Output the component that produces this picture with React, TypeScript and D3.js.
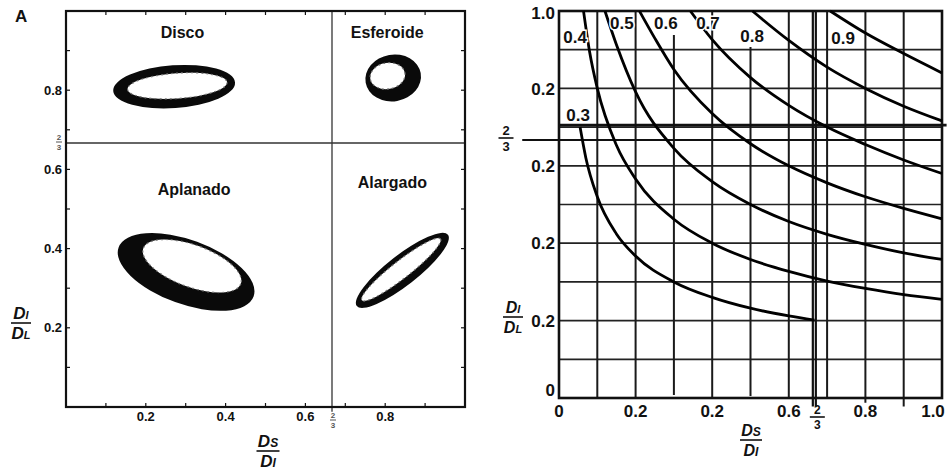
import React from 'react';
import * as d3 from 'd3';

const W = 950;
const H = 470;
const FONT = '"Liberation Sans", Arial, Helvetica, sans-serif';
const INK = '#111';

// ---------------- Left panel data ----------------
const leftMinorTicks = [0.1, 0.2, 0.3, 0.4, 0.5, 0.6, 0.7, 0.8, 0.9];
const leftXLabelValues = [0.2, 0.4, 0.6, 0.8];
const leftYLabelValues = [0.8, 0.6, 0.4, 0.2];
const twoThirds = 2 / 3;

const regionNames = ['Disco', 'Esferoide', 'Aplanado', 'Alargado'];
const regionLabelX = [0.292, 0.805, 0.321, 0.818];
const regionLabelY = [0.932, 0.932, 0.535, 0.553];

// point clouds, drawn as a dense ring: outer envelope and inner empty area
const cloudCx = [0.271, 0.82, 0.301, 0.843];
const cloudCy = [0.809, 0.831, 0.341, 0.345];
const cloudRx = [0.153, 0.07, 0.18, 0.145];
const cloudRy = [0.054, 0.059, 0.081, 0.038];
const cloudAngle = [-4, -10, 20, -38];
const holeCx = [0.279, 0.806, 0.316, 0.84];
const holeCy = [0.811, 0.836, 0.356, 0.347];
const holeRx = [0.125, 0.044, 0.13, 0.125];
const holeRy = [0.032, 0.033, 0.053, 0.022];

// ---------------- Right panel data ----------------
const gridValues = [0.1, 0.2, 0.3, 0.4, 0.5, 0.6, 0.7, 0.8, 0.9];
const vertGridTop = [1, 1, 0.938, 1, 0.907, 1, 1, 1, 1];
const vertGridBottom = [0, 0, 0.008, 0, 0.005, 0, 0, -0.012, -0.022];

const rightYTickValues = [1.0, 0.8, 0.6, 0.4, 0.2, 0];
const rightYTickLabels = ['1.0', '0.2', '0.2', '0.2', '0.2', '0'];
const rightXTickValues = [0, 0.2, 0.4, 0.6, 0.8, 1.0];
const rightXTickLabels = ['0', '0.2', '0.2', '0.6', '0.8', '1.0'];

const boundaryLineY = 0.705;

const sphericityLabels = ['0.3', '0.4', '0.5', '0.6', '0.7', '0.8', '0.9'];
const sphericityLabelX = [0.05, 0.042, 0.164, 0.279, 0.389, 0.504, 0.742];
const sphericityLabelY = [0.716, 0.917, 0.953, 0.953, 0.953, 0.92, 0.915];

const curve03: [number, number][] = [[0.055, 0.7], [0.07, 0.621], [0.1, 0.52], [0.15, 0.424], [0.2, 0.367], [0.3, 0.3], [0.4, 0.26], [0.5, 0.232], [0.6, 0.212], [0.667, 0.201]];
const curve04: [number, number][] = [[0.064, 1.0], [0.08, 0.894], [0.1, 0.8], [0.15, 0.653], [0.2, 0.566], [0.3, 0.462], [0.4, 0.4], [0.5, 0.358], [0.6, 0.327], [0.7, 0.302], [0.8, 0.283], [0.9, 0.267], [1.0, 0.255]];
const curve05: [number, number][] = [[0.12, 1.0], [0.15, 0.913], [0.2, 0.791], [0.3, 0.645], [0.4, 0.559], [0.5, 0.5], [0.6, 0.456], [0.7, 0.423], [0.8, 0.397], [0.9, 0.375], [1.0, 0.358]];
const curve06: [number, number][] = [[0.21, 1.0], [0.25, 0.93], [0.3, 0.849], [0.4, 0.735], [0.5, 0.657], [0.6, 0.6], [0.7, 0.556], [0.8, 0.52], [0.9, 0.49], [1.0, 0.463]];
const curve07: [number, number][] = [[0.343, 1.0], [0.4, 0.926], [0.5, 0.828], [0.6, 0.756], [0.7, 0.7], [0.8, 0.655], [0.9, 0.615], [1.0, 0.58]];
const curve08: [number, number][] = [[0.505, 1.0], [0.6, 0.924], [0.7, 0.855], [0.8, 0.8], [0.9, 0.754], [1.0, 0.716]];
const curve09: [number, number][] = [[0.708, 1.0], [0.8, 0.943], [0.9, 0.89], [1.0, 0.84]];
const curves = [curve03, curve04, curve05, curve06, curve07, curve08, curve09];

// ---------------- scales ----------------
const xL = d3.scaleLinear().domain([0, 1]).range([66, 465]);
const yL = d3.scaleLinear().domain([0, 1]).range([407, 11]);
const xR = d3.scaleLinear().domain([0, 1]).range([559, 942]);
const yR = d3.scaleLinear().domain([0, 1]).range([398, 11]);

type FracProps = {
  cx: number; lineY: number; size: number; subSize: number;
  num: string; numSub?: string; den: string; denSub?: string;
  lineW: number; italic?: boolean; color?: string; strokeW?: number;
};

function Frac({ cx, lineY, size, subSize, num, numSub, den, denSub, lineW, italic, color, strokeW }: FracProps) {
  const c = color || INK;
  const style = italic ? 'italic' : 'normal';
  return (
    <g fill={c} fontFamily={FONT} fontWeight="bold" fontStyle={style}>
      <text x={cx} y={lineY - size * 0.22} textAnchor="middle" fontSize={size}>
        {num}
        {numSub ? <tspan fontSize={subSize}>{numSub}</tspan> : null}
      </text>
      <line x1={cx - lineW / 2} x2={cx + lineW / 2} y1={lineY} y2={lineY} stroke={c} strokeWidth={strokeW || 1.6} />
      <text x={cx} y={lineY + size * 0.72 + size * 0.25} textAnchor="middle" fontSize={size}>
        {den}
        {denSub ? <tspan fontSize={subSize}>{denSub}</tspan> : null}
      </text>
    </g>
  );
}

function LeftPanel() {
  const kx = xL(1) - xL(0);
  const ky = yL(0) - yL(1);
  return (
    <g>
      <text x={15} y={22} fontFamily={FONT} fontWeight="bold" fontSize={17} fill={INK}>A</text>

      {/* clouds */}
      {cloudCx.map((cx, i) => (
        <g key={'cl' + i}>
          <ellipse
            cx={xL(cx)} cy={yL(cloudCy[i])} rx={cloudRx[i] * kx} ry={cloudRy[i] * ky}
            transform={`rotate(${cloudAngle[i]} ${xL(cx)} ${yL(cloudCy[i])})`}
            fill="#0a0a0a"
          />
          <ellipse
            cx={xL(holeCx[i])} cy={yL(holeCy[i])} rx={holeRx[i] * kx} ry={holeRy[i] * ky}
            transform={`rotate(${cloudAngle[i]} ${xL(holeCx[i])} ${yL(holeCy[i])})`}
            fill="#fff" stroke="#777" strokeWidth={1.2} strokeDasharray="2 3"
          />
        </g>
      ))}

      {/* dividers */}
      <line x1={xL(0)} x2={xL(1)} y1={yL(twoThirds)} y2={yL(twoThirds)} stroke="#333" strokeWidth={1.3} />
      <line x1={xL(twoThirds)} x2={xL(twoThirds)} y1={yL(1)} y2={yL(-0.012)} stroke="#333" strokeWidth={1.3} />

      {/* frame */}
      <rect x={xL(0)} y={yL(1)} width={kx} height={ky} fill="none" stroke={INK} strokeWidth={2.2} />

      {/* inward ticks */}
      {leftMinorTicks.map((v) => (
        <g key={'t' + v} stroke={INK} strokeWidth={1.2}>
          <line x1={xL(v)} x2={xL(v)} y1={yL(0)} y2={yL(0) - 4} />
          <line x1={xL(v)} x2={xL(v)} y1={yL(1)} y2={yL(1) + 4} />
          <line x1={xL(0)} x2={xL(0) + 4} y1={yL(v)} y2={yL(v)} />
          <line x1={xL(1)} x2={xL(1) - 4} y1={yL(v)} y2={yL(v)} />
        </g>
      ))}

      {/* tick labels */}
      {leftYLabelValues.map((v) => (
        <text key={'yl' + v} x={xL(0) - 4} y={yL(v)} dy="0.35em" textAnchor="end"
          fontFamily={FONT} fontWeight="bold" fontSize={13} fill={INK}>{v.toFixed(1)}</text>
      ))}
      {leftXLabelValues.map((v) => (
        <text key={'xl' + v} x={xL(v)} y={yL(0) + 14} textAnchor="middle"
          fontFamily={FONT} fontWeight="bold" fontSize={13} fill={INK}>{v.toFixed(1)}</text>
      ))}
      <Frac cx={xL(0) - 7} lineY={yL(twoThirds) - 1} size={8} subSize={8} num="2" den="3" lineW={6} color="#555" strokeW={1} />
      <Frac cx={xL(twoThirds) + 1} lineY={yL(0) + 13} size={8} subSize={8} num="2" den="3" lineW={6} color="#555" strokeW={1} />

      {/* region labels */}
      {regionNames.map((n, i) => (
        <text key={n} x={xL(regionLabelX[i])} y={yL(regionLabelY[i])} textAnchor="middle"
          fontFamily={FONT} fontWeight="bold" fontSize={16} fill={INK}>{n}</text>
      ))}

      {/* axis titles */}
      <Frac cx={21} lineY={323} size={17} subSize={11} num="D" numSub="I" den="D" denSub="L" lineW={20} italic />
      <Frac cx={268} lineY={451} size={17} subSize={12} num="D" numSub="S" den="D" denSub="I" lineW={23} italic />
    </g>
  );
}

function RightPanel() {
  const line = d3.line<[number, number]>()
    .x((d) => xR(d[0]))
    .y((d) => yR(d[1]))
    .curve(d3.curveMonotoneX);
  return (
    <g>
      {/* horizontal grid */}
      {gridValues.map((v) => (
        <line key={'h' + v} x1={xR(0)} x2={xR(1)} y1={yR(v)} y2={yR(v)} stroke="#222" strokeWidth={1.7} />
      ))}
      {/* vertical grid */}
      {gridValues.map((v, i) => (
        <line key={'v' + v} x1={xR(v)} x2={xR(v)} y1={yR(vertGridTop[i])} y2={yR(vertGridBottom[i])} stroke="#1a1a1a" strokeWidth={2} />
      ))}

      {/* boundary lines */}
      <line x1={xR(0)} x2={xR(1.012)} y1={yR(boundaryLineY)} y2={yR(boundaryLineY)} stroke={INK} strokeWidth={2.6} />
      <line x1={xR(-0.096)} x2={xR(1)} y1={yR(twoThirds)} y2={yR(twoThirds)} stroke={INK} strokeWidth={2} />
      <line x1={xR(twoThirds) - 1.5} x2={xR(twoThirds) - 1.5} y1={yR(1)} y2={yR(-0.022)} stroke={INK} strokeWidth={2.2} />
      <line x1={xR(twoThirds) + 1.5} x2={xR(twoThirds) + 1.5} y1={yR(1)} y2={yR(-0.022)} stroke={INK} strokeWidth={2.2} />

      {/* frame */}
      <rect x={xR(0)} y={yR(1)} width={xR(1) - xR(0)} height={yR(0) - yR(1)} fill="none" stroke={INK} strokeWidth={2.6} />

      {/* iso-sphericity curves */}
      {curves.map((c, i) => (
        <path key={'c' + i} d={line(c) || ''} fill="none" stroke="#000" strokeWidth={2.8} />
      ))}

      {/* curve labels */}
      {sphericityLabels.map((t, i) => (
        <text key={'s' + t} x={xR(sphericityLabelX[i])} y={yR(sphericityLabelY[i])} textAnchor="middle"
          fontFamily={FONT} fontWeight="bold" fontSize={17} fill={INK}
          stroke="#fff" strokeWidth={3} paintOrder="stroke">{t}</text>
      ))}

      {/* tick labels */}
      {rightYTickValues.map((v, i) => {
        const y = Math.min(Math.max(yR(v), yR(1) + 2), yR(0) - 8);
        return (
          <text key={'ry' + i} x={xR(0) - 4} y={y} dy="0.36em" textAnchor="end"
            fontFamily={FONT} fontWeight="bold" fontSize={17} fill={INK}>{rightYTickLabels[i]}</text>
        );
      })}
      {rightXTickValues.map((v, i) => {
        const x = Math.min(xR(v), W - 17);
        return (
          <text key={'rx' + i} x={x} y={yR(0) + 19} textAnchor="middle"
            fontFamily={FONT} fontWeight="bold" fontSize={17} fill={INK}>{rightXTickLabels[i]}</text>
        );
      })}
      <Frac cx={xR(twoThirds) + 3} lineY={yR(0) + 19} size={12} subSize={12} num="2" den="3" lineW={15} />
      <Frac cx={506} lineY={yR(twoThirds) - 2} size={13} subSize={13} num="2" den="3" lineW={15} />

      {/* axis titles */}
      <Frac cx={513} lineY={317} size={16} subSize={11} num="D" numSub="I" den="D" denSub="L" lineW={20} italic />
      <Frac cx={751} lineY={440} size={16} subSize={12} num="D" numSub="S" den="D" denSub="I" lineW={22} italic />
    </g>
  );
}

export default function App() {
  return (
    <svg width={W} height={H} viewBox={`0 0 ${W} ${H}`}
      style={{ position: 'absolute', left: 0, top: 0, background: '#fff' }}>
      <rect x={0} y={0} width={W} height={H} fill="#fff" />
      <LeftPanel />
      <RightPanel />
    </svg>
  );
}
